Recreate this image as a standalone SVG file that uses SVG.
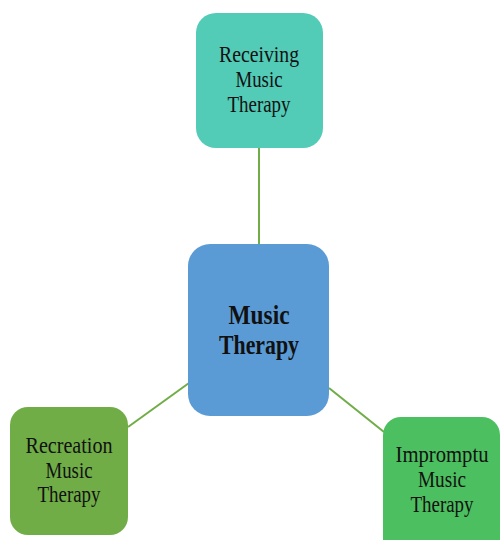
<svg xmlns="http://www.w3.org/2000/svg" width="502" height="540" viewBox="0 0 502 540">
<style>
.lbl{font-family:"Liberation Serif","Times New Roman",serif;font-size:24px;fill:#111;text-anchor:middle}
.main{font-family:"Liberation Serif","Times New Roman",serif;font-size:28px;font-weight:bold;fill:#111;text-anchor:middle}
.conn line{stroke:#70AD47;stroke-width:2}
</style>
<rect width="502" height="540" fill="#ffffff"/>
<g id="connectors" class="conn">
<line x1="259" y1="148" x2="259" y2="244"/>
<line x1="128" y1="427" x2="189" y2="383"/>
<line x1="329" y1="388" x2="384" y2="432"/>
</g>
<g id="receiving">
<rect x="196" y="13" width="127" height="135" rx="20" fill="#52CBB7"/>
<text class="lbl" x="259" y="62" textLength="80" lengthAdjust="spacingAndGlyphs">Receiving</text>
<text class="lbl" x="259" y="87" textLength="47" lengthAdjust="spacingAndGlyphs">Music</text>
<text class="lbl" x="259" y="112" textLength="63" lengthAdjust="spacingAndGlyphs">Therapy</text>
</g>
<g id="music-therapy">
<rect x="188" y="244" width="141" height="172" rx="22" fill="#5B9BD5"/>
<text class="main" x="259" y="324" textLength="61" lengthAdjust="spacingAndGlyphs">Music</text>
<text class="main" x="259" y="354" textLength="80" lengthAdjust="spacingAndGlyphs">Therapy</text>
</g>
<g id="recreation">
<rect x="10" y="407" width="118" height="128" rx="18" fill="#70AD47"/>
<text class="lbl" x="69" y="453" textLength="87" lengthAdjust="spacingAndGlyphs">Recreation</text>
<text class="lbl" x="69" y="478" textLength="47" lengthAdjust="spacingAndGlyphs">Music</text>
<text class="lbl" x="69" y="502" textLength="63" lengthAdjust="spacingAndGlyphs">Therapy</text>
</g>
<g id="impromptu">
<path d="M383,540 V435 A18,18 0 0 1 401,417 H482 A18,18 0 0 1 500,435 V540 Z" fill="#4CBF60"/>
<text class="lbl" x="442" y="462" textLength="93" lengthAdjust="spacingAndGlyphs">Impromptu</text>
<text class="lbl" x="442" y="487" textLength="48" lengthAdjust="spacingAndGlyphs">Music</text>
<text class="lbl" x="442" y="512" textLength="63" lengthAdjust="spacingAndGlyphs">Therapy</text>
</g>
</svg>
